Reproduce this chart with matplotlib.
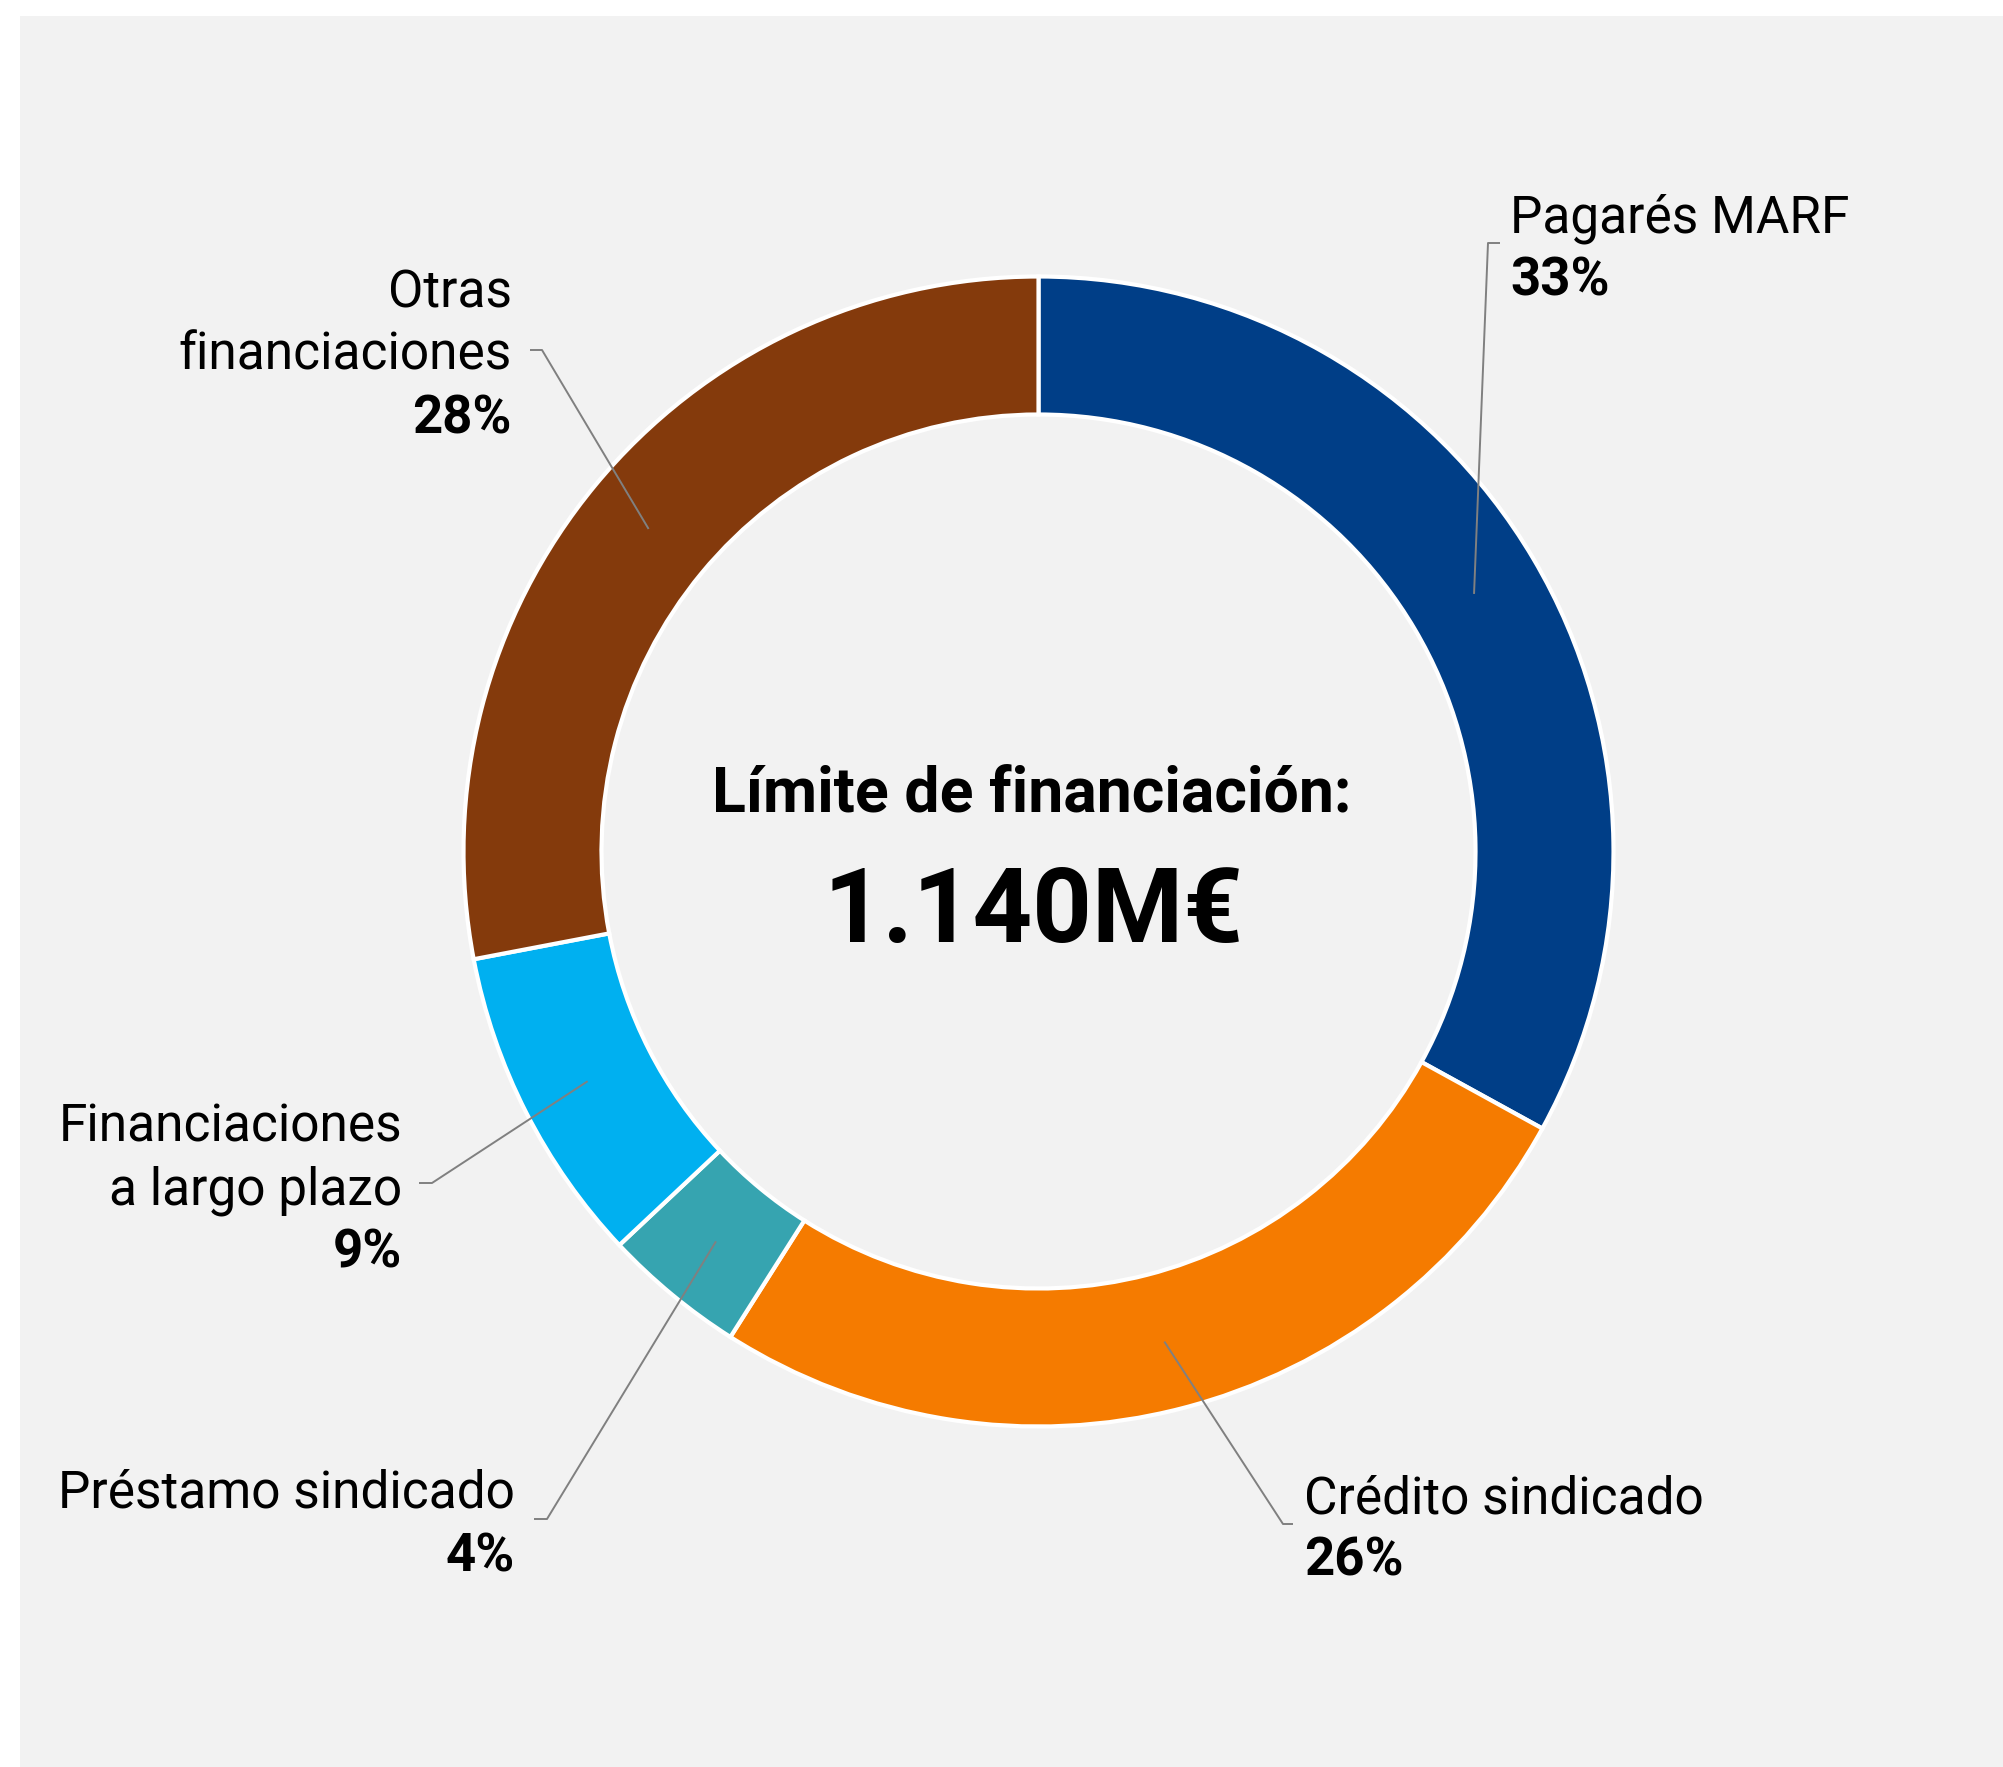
import numpy as np
import matplotlib
matplotlib.use("Agg")
import matplotlib.pyplot as plt
from matplotlib.patches import Rectangle

plt.rcParams['font.family'] = ['Roboto', 'DejaVu Sans']

# datos
categorias = ['Pagarés MARF', 'Crédito sindicado', 'Préstamo sindicado',
              'Financiaciones\na largo plazo', 'Otras\nfinanciaciones']
porcentajes = [33, 26, 4, 9, 28]
colores = ['#003e87', '#f57b00', '#36a4b0', '#00b0f0', '#843a0c']
titulo = 'Límite de financiación:'
total = '1.140M€'

W, H = 2003, 1767
CX, CY = 1038.5, H - 851.5
R_OUT, ANCHO = 575, 138
GRIS = '#808080'

fig = plt.figure(figsize=(W / 100, H / 100), dpi=100)
fig.patch.set_facecolor('white')
ax = fig.add_axes([0, 0, 1, 1])

# panel gris de fondo
ax.add_patch(Rectangle((20, 0), W - 20, H - 16, facecolor='#f2f2f2',
                       edgecolor='none', zorder=0))

wedges, _ = ax.pie(porcentajes, colors=colores, startangle=90, counterclock=False,
                   radius=R_OUT, center=(CX, CY),
                   wedgeprops=dict(width=ANCHO, edgecolor='white', linewidth=3))

ax.set_xlim(0, W)
ax.set_ylim(0, H)
ax.set_aspect('equal')
ax.axis('off')

# texto central
ax.text(1032, H - 812, titulo, ha='center', va='baseline',
        fontsize=45, fontweight='bold', color='black')
ax.text(1033, H - 942, total, ha='center', va='baseline',
        fontsize=75, fontweight='bold', color='black')

# etiquetas: (x texto, baseline primera linea, alineacion, codo, fin horizontal)
etiquetas = [
    (1510, 232, 'left', (1488, 243), (1500, 243)),
    (1304, 1513, 'left', (1283, 1524), (1293, 1524)),
    (515, 1508, 'right', (547, 1519), (534, 1519)),
    (402, 1141, 'right', (432, 1183), (419, 1183)),
    (512, 307, 'right', (542, 350), (530, 350)),
]
r_mid = R_OUT - ANCHO / 2
salto = 63

for w, nombre, pct, (tx, ty, ha, codo, fin) in zip(wedges, categorias, porcentajes, etiquetas):
    lineas = nombre.split('\n')
    for i, linea in enumerate(lineas):
        ax.text(tx, H - (ty + i * salto), linea, ha=ha, va='baseline',
                fontsize=37, fontweight='normal', color='black')
    ax.text(tx, H - (ty + len(lineas) * salto), f'{pct}%', ha=ha, va='baseline',
            fontsize=38, fontweight='bold', color='black')

    ang = np.deg2rad((w.theta1 + w.theta2) / 2)
    px, py = CX + r_mid * np.cos(ang), CY + r_mid * np.sin(ang)
    ax.plot([px, codo[0], fin[0]], [py, H - codo[1], H - fin[1]],
            color=GRIS, linewidth=1.4, solid_capstyle='butt', zorder=5)

fig.savefig('out.png', dpi=100, facecolor=fig.get_facecolor())
